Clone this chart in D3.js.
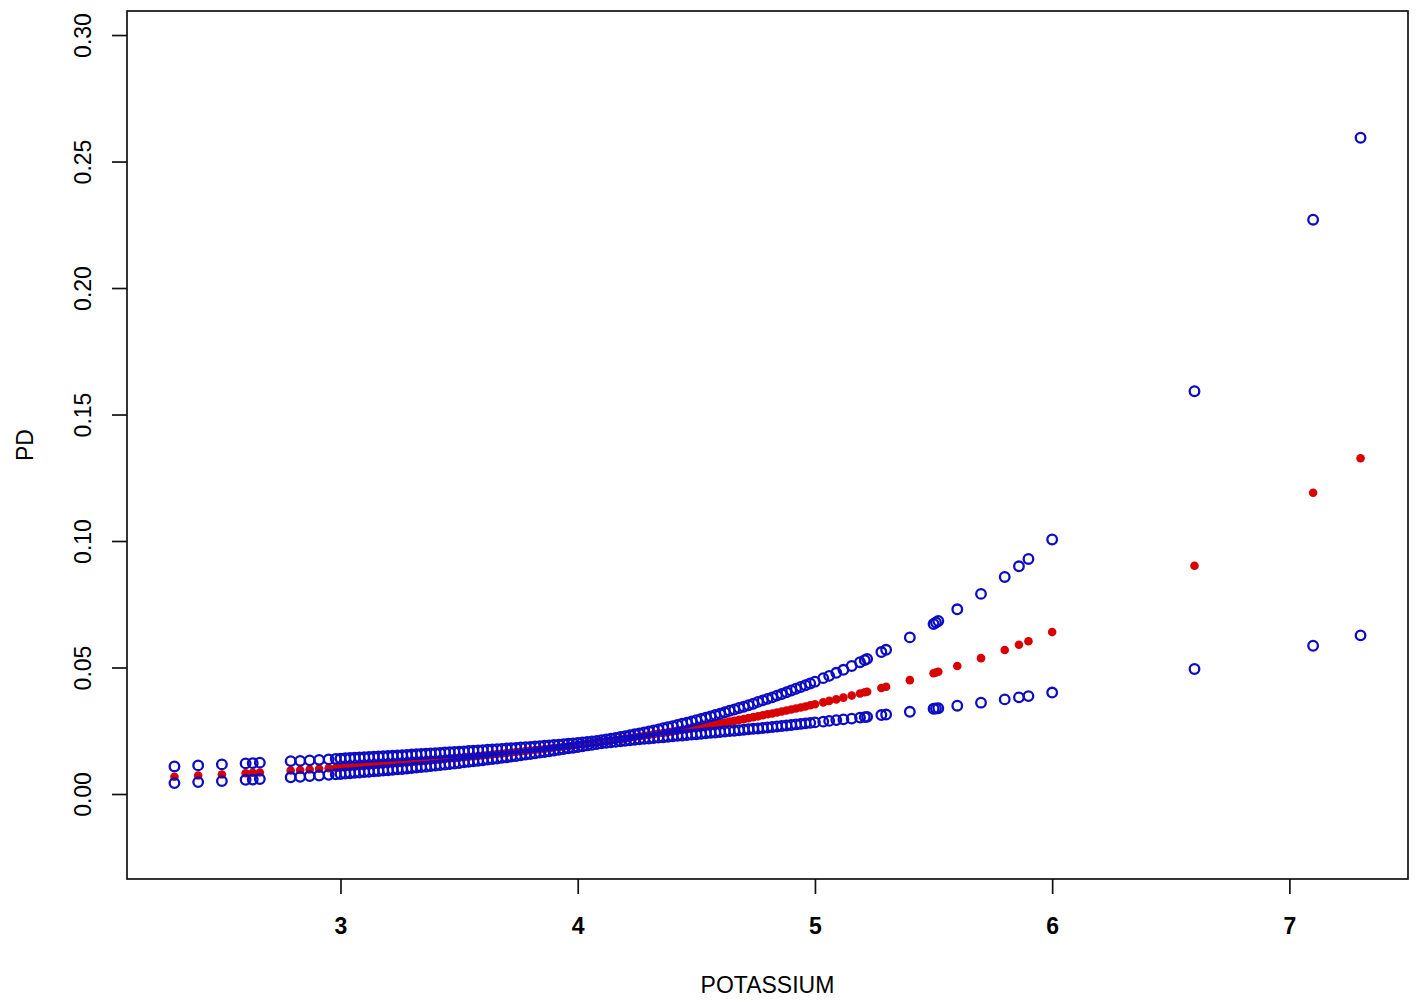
<!DOCTYPE html>
<html>
<head>
<meta charset="utf-8">
<script src="https://cdn.jsdelivr.net/npm/d3@7"></script>
<style>
  html, body { margin: 0; padding: 0; background: #fff; }
  svg { display: block; }
  text { font-family: "Liberation Sans", Arial, Helvetica, sans-serif; fill: #000; }
</style>
</head>
<body>
<svg id="chart" width="1418" height="1003"></svg>
<script>
// ---- data ----
const potassium = [
  2.3, 2.4, 2.5, 2.6, 2.63, 2.66, 2.79, 2.83, 2.87, 2.91, 2.95, 2.98,
  3.00, 3.02, 3.04, 3.06, 3.08, 3.10, 3.12, 3.14, 3.16, 3.18,
  3.20, 3.22, 3.24, 3.26, 3.28, 3.30, 3.32, 3.34, 3.36, 3.38,
  3.40, 3.42, 3.44, 3.46, 3.48, 3.50, 3.52, 3.54, 3.56, 3.58,
  3.60, 3.62, 3.64, 3.66, 3.68, 3.70, 3.72, 3.74, 3.76, 3.78,
  3.80, 3.82, 3.84, 3.86, 3.88, 3.90, 3.92, 3.94, 3.96, 3.98,
  4.00, 4.02, 4.04, 4.06, 4.08, 4.10, 4.12, 4.14, 4.16, 4.18,
  4.20, 4.22, 4.24, 4.26, 4.28, 4.30, 4.32, 4.34, 4.36, 4.38,
  4.40, 4.42, 4.44, 4.46, 4.48, 4.50, 4.52, 4.54, 4.56, 4.58,
  4.60, 4.62, 4.64, 4.66, 4.68, 4.70, 4.72, 4.74, 4.76, 4.78,
  4.80, 4.82, 4.84, 4.86, 4.88, 4.90, 4.92, 4.94, 4.96, 4.98,
  5.00, 5.035, 5.06, 5.09, 5.12, 5.155, 5.19, 5.21, 5.22, 5.28, 5.30,
  5.40, 5.50, 5.51, 5.52, 5.60, 5.70, 5.80, 5.86, 5.90, 6.00,
  6.60, 7.10, 7.30
];
const pdFit = [
  .0068, .0073, .0077, .0082, .0084, .0085, .0093, .0095, .0097, .0100, .0102, .0104,
  .0105, .0107, .0108, .0109, .0111, .0112, .0113, .0115, .0116, .0118,
  .0119, .0121, .0122, .0124, .0125, .0127, .0128, .0130, .0131, .0133,
  .0135, .0136, .0138, .0140, .0141, .0143, .0145, .0147, .0148, .0150,
  .0152, .0154, .0156, .0158, .0160, .0162, .0164, .0166, .0168, .0170,
  .0172, .0174, .0176, .0178, .0180, .0183, .0185, .0187, .0189, .0192,
  .0194, .0196, .0199, .0201, .0204, .0206, .0209, .0211, .0214, .0216,
  .0219, .0222, .0225, .0227, .0230, .0233, .0236, .0239, .0241, .0244,
  .0247, .0250, .0253, .0256, .0260, .0263, .0266, .0269, .0272, .0276,
  .0279, .0282, .0286, .0289, .0293, .0296, .0300, .0304, .0307, .0311,
  .0315, .0318, .0322, .0326, .0330, .0334, .0338, .0342, .0346, .0351,
  .0355, .0362, .0368, .0374, .0381, .0389, .0397, .0402, .0404, .0419, .0424,
  .0450, .0477, .0480, .0483, .0506, .0537, .0569, .0590, .0604, .0640,
  .0902, .1191, .1327
];
const pdUpper = [
  .0109, .0113, .0117, .0121, .0122, .0124, .0130, .0131, .0133, .0135, .0137, .0139,
  .0140, .0141, .0142, .0143, .0144, .0145, .0146, .0147, .0148, .0149,
  .0150, .0151, .0152, .0153, .0154, .0156, .0157, .0158, .0159, .0160,
  .0161, .0162, .0164, .0165, .0166, .0167, .0168, .0170, .0171, .0172,
  .0173, .0175, .0176, .0177, .0178, .0180, .0181, .0182, .0184, .0185,
  .0186, .0188, .0189, .0191, .0192, .0194, .0195, .0197, .0199, .0200,
  .0202, .0204, .0206, .0208, .0210, .0213, .0216, .0219, .0222, .0225,
  .0228, .0232, .0236, .0239, .0243, .0247, .0251, .0255, .0260, .0264,
  .0268, .0273, .0278, .0282, .0287, .0292, .0297, .0302, .0307, .0312,
  .0317, .0323, .0329, .0334, .0340, .0345, .0351, .0357, .0364, .0370,
  .0376, .0382, .0389, .0395, .0402, .0409, .0416, .0423, .0430, .0437,
  .0444, .0458, .0467, .0479, .0491, .0506, .0521, .0529, .0534, .0561, .0570,
  .0619, .0672, .0678, .0684, .0730, .0791, .0858, .0900, .0929, .1006,
  .1592, .2270, .2594
];
const pdLower = [
  .0043, .0047, .0051, .0056, .0057, .0059, .0066, .0068, .0071, .0073, .0076, .0078,
  .0079, .0081, .0082, .0084, .0085, .0087, .0088, .0090, .0091, .0093,
  .0094, .0096, .0098, .0099, .0101, .0103, .0105, .0107, .0108, .0110,
  .0112, .0114, .0116, .0118, .0120, .0122, .0125, .0127, .0129, .0131,
  .0133, .0136, .0138, .0140, .0143, .0145, .0148, .0150, .0153, .0156,
  .0158, .0161, .0164, .0166, .0169, .0172, .0175, .0178, .0181, .0183,
  .0186, .0189, .0192, .0194, .0197, .0200, .0202, .0204, .0206, .0208,
  .0210, .0212, .0214, .0216, .0218, .0219, .0221, .0223, .0224, .0226,
  .0228, .0230, .0231, .0233, .0235, .0236, .0238, .0240, .0242, .0243,
  .0245, .0247, .0249, .0250, .0252, .0254, .0256, .0258, .0259, .0261,
  .0263, .0265, .0267, .0269, .0271, .0273, .0275, .0277, .0279, .0281,
  .0283, .0286, .0289, .0292, .0295, .0298, .0302, .0304, .0305, .0312, .0314,
  .0325, .0337, .0338, .0339, .0349, .0361, .0374, .0382, .0387, .0401,
  .0494, .0586, .0627
];
const xTicks = [3, 4, 5, 6, 7];
const yTicks = [0.00, 0.05, 0.10, 0.15, 0.20, 0.25, 0.30];
const xLabel = "POTASSIUM";
const yLabel = "PD";

// ---- layout ----
const plotLeft = 127, plotRight = 1408, plotTop = 11, plotBottom = 879;
const svg = d3.select("#chart");

const x = d3.scaleLinear().domain([2.1, 7.5]).range([plotLeft, plotRight]);
const y = d3.scaleLinear().domain([-0.0336, 0.3095]).range([plotBottom, plotTop]);

const idx = d3.range(potassium.length);

// fitted values (drawn first)
svg.append("g").selectAll("circle").data(idx).join("circle")
  .attr("cx", i => x(potassium[i]))
  .attr("cy", i => y(pdFit[i]))
  .attr("r", 4.3)
  .attr("fill", "#d80000");

// confidence bounds: open circles
[pdUpper, pdLower].forEach(series => {
  svg.append("g").selectAll("circle").data(idx).join("circle")
    .attr("cx", i => x(potassium[i]))
    .attr("cy", i => y(series[i]))
    .attr("r", 4.8)
    .attr("fill", "none")
    .attr("stroke", "#0c0cc4")
    .attr("stroke-width", 2.3);
});

// box
svg.append("rect")
  .attr("x", plotLeft).attr("y", plotTop)
  .attr("width", plotRight - plotLeft).attr("height", plotBottom - plotTop)
  .attr("fill", "none").attr("stroke", "#111").attr("stroke-width", 1.7);

// x axis
const gx = svg.append("g")
  .attr("transform", `translate(0,${plotBottom})`)
  .call(d3.axisBottom(x).tickValues(xTicks).tickSize(15).tickPadding(24).tickFormat(d3.format("d")));
gx.select(".domain").remove();
gx.selectAll(".tick line").attr("stroke", "#111").attr("stroke-width", 1.7);
gx.selectAll(".tick text")
  .attr("font-size", 23).attr("font-weight", "bold")
  .attr("font-family", "Liberation Sans, Arial, sans-serif").attr("fill", "#000");

// y axis
const gy = svg.append("g")
  .attr("transform", `translate(${plotLeft},0)`)
  .call(d3.axisLeft(y).tickValues(yTicks).tickSize(15).tickFormat(d3.format(".2f")));
gy.select(".domain").remove();
gy.selectAll(".tick line").attr("stroke", "#111").attr("stroke-width", 1.7);
gy.selectAll(".tick text")
  .attr("x", null).attr("dy", null)
  .attr("transform", "translate(-44,0) rotate(-90)")
  .attr("text-anchor", "middle")
  .attr("dominant-baseline", "central")
  .attr("font-size", 23)
  .attr("font-family", "Liberation Sans, Arial, sans-serif").attr("fill", "#000");

// axis titles
svg.append("text")
  .attr("x", (plotLeft + plotRight) / 2).attr("y", 993)
  .attr("text-anchor", "middle")
  .attr("font-size", 23)
  .text(xLabel);

svg.append("text")
  .attr("transform", `translate(25,${(plotTop + plotBottom) / 2}) rotate(-90)`)
  .attr("text-anchor", "middle")
  .attr("dominant-baseline", "central")
  .attr("font-size", 23)
  .text(yLabel);
</script>
</body>
</html>
